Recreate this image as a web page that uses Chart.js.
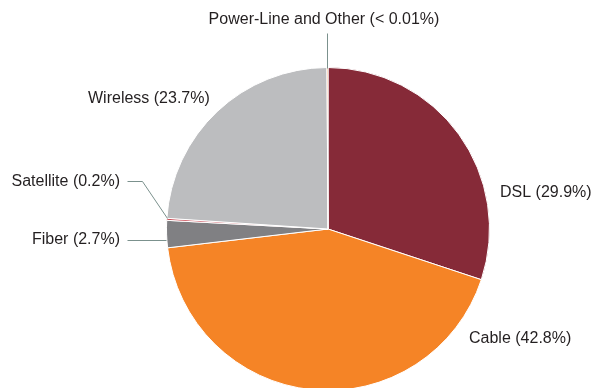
<!DOCTYPE html>
<html>
<head>
<meta charset="utf-8">
<script src="https://cdn.jsdelivr.net/npm/chart.js"></script>
<style>
  html, body { margin: 0; padding: 0; background: #fff; overflow: hidden; }
  #wrap { width: 591px; height: 388px; overflow: hidden; }
</style>
</head>
<body>
<div id="wrap"><canvas id="chart" width="591" height="400"></canvas></div>
<script>
// 연결 방식별 점유율 (12시 방향부터 시계방향)
const categories = ['DSL', 'Cable', 'Fiber', 'Satellite', 'Wireless', 'Power-Line and Other'];
const shares = [29.9, 42.8, 2.7, 0.2, 23.7, 0.1];
const shareLabels = ['29.9%', '42.8%', '2.7%', '0.2%', '23.7%', '< 0.01%'];
const sliceColors = ['#862a38', '#f58426', '#808083', '#c94a55', '#bcbdbf', '#f58426'];

// 라벨 위치 (텍스트 기준점, 정렬, 지시선)
const labelSpots = [
  { x: 500, y: 193, align: 'left' },
  { x: 469, y: 339, align: 'left' },
  { x: 120, y: 240, align: 'right', line: [[127, 240], [166, 240]] },
  { x: 120, y: 182, align: 'right', line: [[127, 181], [142, 181], [167, 218]] },
  { x: 88, y: 99, align: 'left' },
  { x: 324, y: 20, align: 'center', line: [[327, 33], [327, 68]] }
];

const labelPlugin = {
  id: 'sliceLabels',
  afterDraw(chart) {
    const ctx = chart.ctx;
    ctx.save();
    ctx.font = '16px "Liberation Sans", Arial, sans-serif';
    ctx.fillStyle = '#231f20';
    ctx.textBaseline = 'middle';
    categories.forEach((name, i) => {
      const s = labelSpots[i];
      ctx.textAlign = s.align;
      ctx.fillText(`${name} (${shareLabels[i]})`, s.x, s.y);
      if (s.line) {
        ctx.strokeStyle = '#7b918d';
        ctx.lineWidth = 1;
        ctx.beginPath();
        s.line.forEach((p, j) => j ? ctx.lineTo(p[0] + 0.5, p[1] + 0.5) : ctx.moveTo(p[0] + 0.5, p[1] + 0.5));
        ctx.stroke();
      }
    });
    ctx.restore();
  }
};

new Chart(document.getElementById('chart'), {
  type: 'pie',
  data: {
    labels: categories,
    datasets: [{
      data: shares,
      backgroundColor: sliceColors,
      borderColor: '#ffffff',
      borderWidth: 1
    }]
  },
  options: {
    responsive: false,
    animation: false,
    layout: { padding: { left: 166, right: 101, top: 67, bottom: 9 } },
    plugins: {
      legend: { display: false },
      tooltip: { enabled: false }
    }
  },
  plugins: [labelPlugin]
});
</script>
</body>
</html>
